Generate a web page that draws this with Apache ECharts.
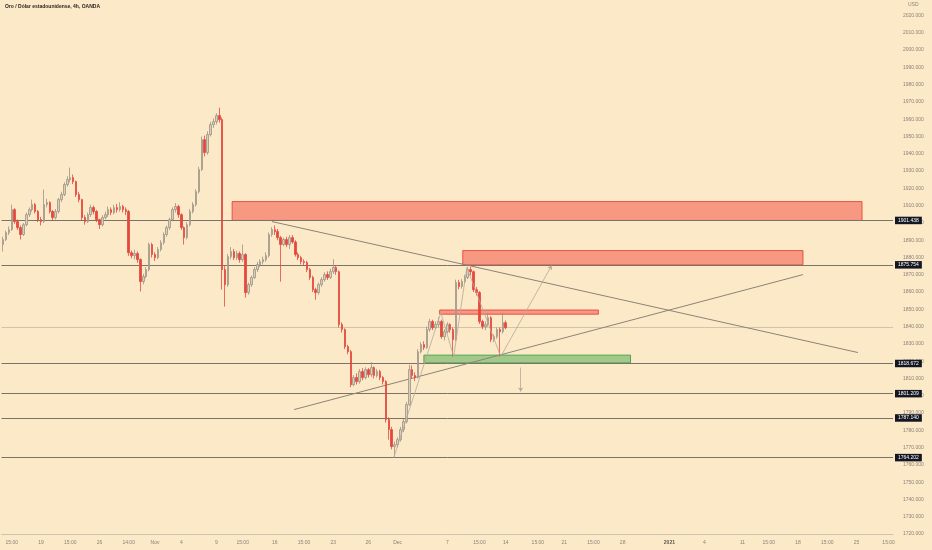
<!DOCTYPE html>
<html><head><meta charset="utf-8">
<script src="https://cdn.jsdelivr.net/npm/echarts@6/dist/echarts.min.js"></script>
<style>html,body{margin:0;padding:0;background:#fce9c8}#c{width:932px;height:550px}</style>
</head><body><div id="c"></div>
<script>
const title = 'Oro / Dólar estadounidense, 4h, OANDA';
const currency = 'USD';
const slotCount = 305;
// [open, close, low, high]
const ohlc = [
[1887.5,1890.4,1883.4,1892.0],[1890.4,1894.4,1889.5,1895.5],[1894.4,1896.1,1893.0,1898.0],[1896.1,1907.7,1895.5,1910.6],
[1907.7,1900.8,1899.5,1908.5],[1900.8,1897.3,1896.0,1902.0],[1897.3,1893.3,1890.4,1898.5],[1893.3,1899.0,1892.5,1900.0],
[1899.0,1904.8,1898.0,1906.0],[1904.8,1907.7,1903.5,1909.0],[1907.7,1910.6,1906.5,1913.5],[1910.6,1906.6,1905.5,1911.5],
[1906.6,1901.9,1900.5,1907.5],[1901.9,1900.8,1898.5,1903.5],[1900.8,1910.6,1900.0,1919.3],[1910.6,1911.8,1909.0,1914.0],
[1911.8,1906.6,1905.5,1912.5],[1906.6,1903.1,1901.5,1907.5],[1903.1,1906.6,1902.0,1908.0],[1906.6,1913.5,1905.5,1914.5],
[1913.5,1916.4,1912.0,1918.0],[1916.4,1922.2,1915.5,1923.5],[1922.2,1925.1,1921.0,1927.0],[1925.1,1926.2,1923.5,1932.0],
[1926.2,1923.9,1922.5,1928.0],[1923.9,1916.4,1915.0,1924.5],[1916.4,1913.5,1912.0,1918.0],[1913.5,1903.1,1901.5,1914.0],
[1903.1,1900.8,1899.0,1904.5],[1900.8,1904.8,1900.0,1906.0],[1904.8,1908.9,1903.5,1910.5],[1908.9,1906.6,1905.0,1910.0],
[1906.6,1901.9,1900.5,1907.5],[1901.9,1899.0,1896.5,1902.5],[1899.0,1903.1,1898.0,1904.5],[1903.1,1904.8,1902.0,1906.5],
[1904.8,1907.7,1903.5,1909.5],[1907.7,1906.0,1904.5,1909.0],[1906.0,1908.9,1905.0,1910.5],[1908.9,1907.7,1906.0,1911.0],
[1907.7,1909.5,1906.5,1912.0],[1909.5,1907.7,1906.0,1910.5],[1907.7,1906.6,1904.5,1909.0],[1906.6,1882.8,1881.0,1907.5],
[1882.8,1881.1,1879.5,1884.0],[1881.1,1882.3,1879.0,1884.5],[1882.3,1878.8,1877.0,1883.5],[1878.8,1866.1,1860.3,1879.5],
[1866.1,1869.0,1864.5,1870.5],[1869.0,1873.0,1868.0,1874.5],[1873.0,1887.5,1872.0,1888.6],[1887.5,1881.7,1880.0,1888.5],
[1881.7,1879.9,1878.0,1883.0],[1879.9,1884.6,1879.0,1886.0],[1884.6,1888.6,1883.5,1890.0],[1888.6,1893.3,1887.5,1894.5],
[1893.3,1897.3,1892.0,1898.5],[1897.3,1901.9,1896.0,1903.0],[1901.9,1907.7,1901.0,1909.0],[1907.7,1909.5,1906.0,1911.5],
[1909.5,1904.8,1903.0,1910.5],[1904.8,1897.3,1896.0,1905.5],[1897.3,1891.5,1887.5,1898.0],[1891.5,1899.0,1890.5,1900.5],
[1899.0,1906.6,1898.0,1908.0],[1906.6,1910.6,1905.5,1912.0],[1910.6,1918.1,1909.5,1919.5],[1918.1,1930.9,1917.0,1932.5],
[1930.9,1948.2,1930.0,1950.0],[1948.2,1940.7,1938.5,1950.5],[1940.7,1951.1,1939.5,1953.0],[1951.1,1956.9,1950.0,1958.5],
[1956.9,1958.6,1955.0,1960.5],[1958.6,1962.1,1957.0,1963.5],[1962.1,1959.8,1958.0,1966.7],[1959.8,1873.0,1861.4,1961.0],
[1873.0,1864.3,1851.6,1875.0],[1864.3,1880.5,1863.0,1882.0],[1880.5,1883.4,1879.0,1886.0],[1883.4,1879.9,1878.5,1885.0],
[1879.9,1882.3,1878.5,1884.0],[1882.3,1878.8,1877.0,1883.5],[1878.8,1881.7,1877.5,1887.5],[1881.7,1859.7,1856.8,1882.5],
[1859.7,1864.3,1858.5,1865.5],[1864.3,1868.4,1863.0,1869.5],[1868.4,1873.0,1867.5,1874.5],[1873.0,1875.9,1871.5,1877.5],
[1875.9,1877.6,1874.5,1879.0],[1877.6,1878.8,1876.0,1880.5],[1878.8,1881.1,1877.5,1883.0],[1881.1,1893.3,1880.0,1894.5],
[1893.3,1896.1,1892.0,1897.5],[1896.1,1895.0,1893.0,1898.5],[1895.0,1891.5,1890.0,1896.5],[1891.5,1887.5,1866.0,1892.5],
[1887.5,1890.4,1886.5,1891.5],[1890.4,1887.5,1886.0,1892.0],[1887.5,1891.5,1885.0,1893.0],[1891.5,1889.0,1888.0,1893.0],
[1889.0,1881.7,1880.5,1890.0],[1881.7,1879.9,1878.5,1883.0],[1879.9,1877.6,1876.0,1881.0],[1877.6,1877.1,1875.5,1879.0],
[1877.1,1873.0,1871.5,1878.0],[1873.0,1868.4,1867.0,1874.0],[1868.4,1861.4,1860.0,1869.5],[1861.4,1859.7,1855.6,1862.5],
[1859.7,1864.3,1858.5,1865.5],[1864.3,1867.2,1863.0,1868.5],[1867.2,1870.1,1866.0,1871.5],[1870.1,1868.4,1867.0,1872.0],
[1868.4,1871.8,1867.5,1873.5],[1871.8,1874.2,1870.5,1879.0],[1874.2,1871.8,1870.0,1875.5],[1871.8,1841.2,1839.5,1872.5],
[1841.2,1838.3,1836.5,1842.5],[1838.3,1828.4,1827.0,1839.0],[1828.4,1825.5,1824.0,1829.5],[1825.5,1806.4,1805.0,1826.5],
[1806.4,1810.5,1805.5,1812.0],[1810.5,1808.2,1806.5,1813.0],[1808.2,1814.0,1807.0,1815.5],[1814.0,1810.5,1809.0,1816.0],
[1810.5,1815.1,1809.5,1816.5],[1815.1,1812.2,1810.5,1816.0],[1812.2,1816.3,1811.0,1819.5],[1816.3,1811.7,1810.0,1817.0],
[1811.7,1814.0,1810.5,1815.5],[1814.0,1810.5,1809.0,1815.0],[1810.5,1808.2,1806.5,1811.5],[1808.2,1786.2,1784.5,1809.0],
[1786.2,1780.4,1774.6,1787.5],[1780.4,1770.6,1769.0,1782.0],[1770.6,1771.7,1764.2,1773.5],[1771.7,1774.6,1770.0,1776.0],
[1774.6,1780.4,1773.5,1782.0],[1780.4,1785.0,1779.0,1786.5],[1785.0,1794.9,1784.0,1796.5],[1794.9,1815.1,1794.0,1818.0],
[1815.1,1811.7,1810.0,1817.5],[1811.7,1810.5,1808.5,1813.5],[1810.5,1825.5,1810.0,1827.0],[1825.5,1829.6,1824.5,1831.0],
[1829.6,1827.9,1826.5,1831.5],[1827.9,1838.3,1827.0,1840.0],[1838.3,1842.9,1837.0,1844.5],[1842.9,1839.4,1838.0,1844.0],
[1839.4,1841.2,1838.5,1843.0],[1841.2,1842.9,1839.5,1845.5],[1842.9,1834.2,1833.0,1844.0],[1834.2,1837.1,1832.0,1838.5],
[1837.1,1841.2,1836.0,1842.5],[1841.2,1838.3,1836.5,1842.0],[1838.3,1832.5,1822.7,1839.5],[1832.5,1865.5,1831.5,1867.2],
[1865.5,1863.2,1861.5,1867.0],[1863.2,1866.1,1862.0,1867.5],[1866.1,1868.4,1865.0,1870.0],[1868.4,1873.0,1867.5,1874.7],
[1873.0,1871.8,1869.5,1874.5],[1871.8,1861.4,1860.0,1872.5],[1861.4,1859.7,1858.0,1863.0],[1859.7,1842.9,1841.5,1860.5],
[1842.9,1840.0,1838.5,1844.0],[1840.0,1841.2,1838.0,1843.0],[1841.2,1845.2,1840.0,1848.0],[1845.2,1832.5,1831.0,1846.0],
[1832.5,1834.2,1831.0,1835.5],[1834.2,1838.3,1833.0,1839.5],[1838.3,1837.1,1822.7,1839.5],[1837.1,1842.3,1836.0,1848.1],
[1842.3,1839.4,1838.5,1843.5]
];
const xTickSlots  = [3,13,23,33,43,52,61,73,82,93,103,113,125,135,152,163,172,183,192,202,212,228,240,253,262,272,282,292,303];
const xTickLabels = ['15:00','19','15:00','26','14:00','Nov','4','9','15:00','16','15:00','23','26','Dec','7','15:00','14','15:00','21','15:00','28','2021','4','11','15:00','18','15:00','25','15:00'];
const levels = [1901.438, 1875.754, 1818.672, 1801.209, 1787.140, 1764.202];
const levelLabels = ['1901.438', '1875.754', '1818.672', '1801.209', '1787.140', '1764.202'];
const lastPrice = 1839.4;
// [slotStart, priceLow, slotEnd, priceHigh]
const redZones = [[78.4,1901.438,293.9,1912.35],[157.3,1875.754,273.7,1884.0],[149.4,1847.2,203.7,1849.6]];
const greenZones = [[144.0,1819.0,214.7,1823.5]];
const trendLines = [[[92.0,1900.8],[292.5,1825.0]],[[99.6,1792.0],[273.7,1870.1]]];
const patternPath = [[133.7,1764.2],[149.8,1848.1],[154.2,1822.7],[158.7,1874.2],[170.3,1822.7]];
const projUp = [[170.3,1822.7],[187.7,1875.3]];
const projDown = [[177.1,1816.3],[177.1,1802.4]];
const yMin = 1720, yMax = 2029, yStep = 10;

const categories = Array.from({length: slotCount}, (_, i) => String(i));
const tickMap = {};
xTickSlots.forEach((s, k) => { tickMap[s] = xTickLabels[k]; });

const chart = echarts.init(document.getElementById('c'), null, {renderer: 'canvas'});
const FONT = 'Liberation Sans';
const zoneData = (zones) => zones.map(z => [{coord: [z[0], z[1]]}, {coord: [z[2], z[3]]}]);

chart.setOption({
  backgroundColor: '#fce9c8',
  animation: false,
  textStyle: {fontFamily: FONT},
  graphic: [
    {type: 'text', left: 5, top: 4, style: {text: title, fontSize: 5, fontWeight: 'bold', fill: '#2a2520', fontFamily: FONT}},
    {type: 'text', left: 908, top: 2, style: {text: currency, fontSize: 5, fill: '#8b8377', fontFamily: FONT}}
  ],
  grid: {left: 0, right: 39, top: 0, bottom: 16, containLabel: false},
  xAxis: [{
    type: 'category', data: categories, boundaryGap: true,
    axisLine: {show: true, lineStyle: {color: '#cfc4b0', width: 1}},
    axisTick: {show: false}, splitLine: {show: false},
    axisLabel: {
      interval: 0, fontSize: 5, color: '#8b8377', margin: 6,
      formatter: (v, i) => { const t = tickMap[i]; if (!t) return ''; return t === '2021' ? '{b|2021}' : t; },
      rich: {b: {fontWeight: 'bold', fontSize: 5, color: '#5e574d'}}
    }
  }, {
    type: 'value', min: -0.5, max: slotCount - 0.5, show: false
  }],
  yAxis: {
    type: 'value', position: 'right', min: yMin, max: yMax, interval: yStep, scale: true,
    axisLine: {show: false}, axisTick: {show: false}, splitLine: {show: false},
    axisLabel: {fontSize: 5, color: '#8b8377', margin: 10, showMaxLabel: false, formatter: v => v.toFixed(3)}
  },
  series: [
    {
      type: 'candlestick', xAxisIndex: 0, data: ohlc, barWidth: 2, z: 5,
      itemStyle: {color: '#d8cfbd', borderColor: '#9c9385', color0: '#e3473d', borderColor0: '#e3473d', borderWidth: 0.8}
    },
    {
      type: 'line', xAxisIndex: 1, data: [], z: 3, silent: true,
      markArea: {silent: true, data: zoneData(redZones),
        itemStyle: {color: 'rgba(243,85,72,0.55)', borderColor: 'rgba(232,70,60,0.9)', borderWidth: 1}}
    },
    {
      type: 'line', xAxisIndex: 1, data: [], z: 3, silent: true,
      markArea: {silent: true, data: zoneData(greenZones),
        itemStyle: {color: 'rgba(70,170,75,0.5)', borderColor: 'rgba(60,160,70,0.9)', borderWidth: 1}}
    },
    {
      type: 'line', xAxisIndex: 1, data: [], z: 4, silent: true,
      markLine: {
        silent: true, symbol: ['none', 'none'],
        lineStyle: {color: '#7c7368', width: 1, type: 'solid'},
        label: {show: true, position: 'end', distance: 2, formatter: p => p.name,
          backgroundColor: '#131722', color: '#ffffff', fontSize: 5, padding: [1.5, 3, 1, 3], fontFamily: FONT},
        data: levels.map((v, k) => ({yAxis: v, name: levelLabels[k]}))
      }
    },
    {
      type: 'line', xAxisIndex: 1, data: [], z: 2, silent: true,
      markLine: {silent: true, symbol: ['none', 'none'], label: {show: false},
        lineStyle: {color: 'rgba(120,110,100,0.3)', width: 1, type: 'solid'},
        data: [{yAxis: lastPrice}]}
    },
    {
      type: 'line', xAxisIndex: 1, data: [], z: 6, silent: true,
      markLine: {silent: true, symbol: ['none', 'none'], label: {show: false},
        lineStyle: {color: '#8c8378', width: 1, type: 'solid'},
        data: trendLines.map(l => [{coord: l[0]}, {coord: l[1]}])}
    },
    {
      type: 'line', xAxisIndex: 1, data: patternPath, z: 6, silent: true, symbol: 'none',
      lineStyle: {color: '#b3aa9c', width: 0.8}
    },
    {
      type: 'line', xAxisIndex: 1, data: [], z: 6, silent: true,
      markLine: {silent: true, symbol: ['none', 'arrow'], symbolSize: 4, label: {show: false},
        lineStyle: {color: '#b3aa9c', width: 0.8, type: 'solid'},
        data: [[{coord: projUp[0]}, {coord: projUp[1]}], [{coord: projDown[0]}, {coord: projDown[1]}]]}
    }
  ]
});
</script></body></html>
